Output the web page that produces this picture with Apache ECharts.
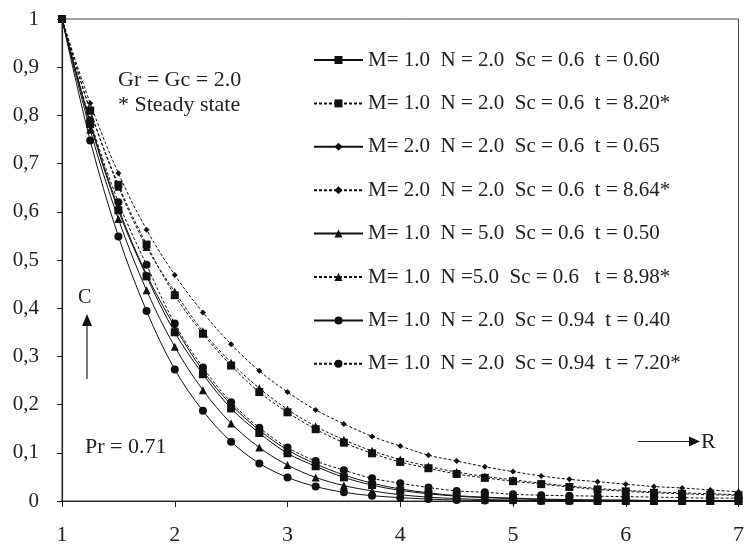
<!DOCTYPE html>
<html>
<head>
<meta charset="utf-8">
<script src="https://cdn.jsdelivr.net/npm/echarts@6/dist/echarts.min.js"></script>
<style>
html,body{margin:0;padding:0;background:#fff;}
#chart{width:747px;height:546px;}
</style>
</head>
<body>
<div id="chart"></div>
<script>
const R = [1,1.25,1.5,1.75,2,2.25,2.5,2.75,3,3.25,3.5,3.75,4,4.25,4.5,4.75,5,5.25,5.5,5.75,6,6.25,6.5,6.75,7];

const names = [
  "M= 1.0  N = 2.0  Sc = 0.6  t = 0.60",
  "M= 1.0  N = 2.0  Sc = 0.6  t = 8.20*",
  "M= 2.0  N = 2.0  Sc = 0.6  t = 0.65",
  "M= 2.0  N = 2.0  Sc = 0.6  t = 8.64*",
  "M= 1.0  N = 5.0  Sc = 0.6  t = 0.50",
  "M= 1.0  N =5.0  Sc = 0.6   t = 8.98*",
  "M= 1.0  N = 2.0  Sc = 0.94  t = 0.40",
  "M= 1.0  N = 2.0  Sc = 0.94  t = 7.20*"
];

const s1 = [1,0.782,0.603,0.466,0.35,0.263,0.192,0.141,0.099,0.072,0.049,0.033,0.022,0.015,0.010,0.007,0.005,0.003,0.002,0.002,0.001,0.001,0.001,0,0];
const s2 = [1,0.81,0.656,0.532,0.427,0.347,0.281,0.226,0.184,0.149,0.121,0.099,0.081,0.068,0.056,0.048,0.041,0.035,0.029,0.024,0.020,0.017,0.015,0.013,0.012];
const s3 = [1,0.786,0.608,0.47,0.362,0.27,0.2,0.147,0.106,0.077,0.054,0.037,0.025,0.017,0.011,0.008,0.006,0.004,0.003,0.002,0.002,0.001,0.001,0.001,0.001];
const s4 = [1,0.825,0.68,0.563,0.469,0.391,0.325,0.27,0.226,0.189,0.16,0.134,0.114,0.095,0.083,0.071,0.061,0.052,0.045,0.040,0.035,0.030,0.027,0.023,0.019];
const s5 = [1,0.77,0.585,0.437,0.32,0.23,0.161,0.111,0.0745,0.049,0.032,0.021,0.013,0.008,0.005,0.003,0.002,0.001,0.001,0,0,0,0,0,0];
const s6 = [1,0.81,0.652,0.527,0.434,0.352,0.287,0.234,0.19,0.155,0.127,0.104,0.086,0.072,0.060,0.051,0.044,0.037,0.031,0.026,0.022,0.019,0.017,0.015,0.013];
const s7 = [1,0.748,0.549,0.394,0.273,0.187,0.123,0.078,0.049,0.030,0.018,0.011,0.007,0.004,0.002,0.001,0.001,0,0,0,0,0,0,0,0];
const s8 = [1,0.79,0.62,0.49,0.368,0.277,0.205,0.152,0.111,0.083,0.064,0.047,0.037,0.028,0.021,0.018,0.014,0.012,0.011,0.010,0.009,0.008,0.007,0.006,0.006];

const yTicks = [0,0.1,0.2,0.3,0.4,0.5,0.6,0.7,0.8,0.9,1];

const seriesData = [s1,s2,s3,s4,s5,s6,s7,s8];
const symbols = ['rect','rect','diamond','diamond','triangle','triangle','circle','circle'];
const symSizes = [8,8,6,6,8,8,8,8];

const FONT = '"Liberation Serif", "DejaVu Serif", serif';

const series = seriesData.map((d,i)=>({
  name: names[i],
  type: 'line',
  data: d.map((v,j)=>[R[j], v]),
  smooth: 0.35,
  symbol: symbols[i],
  symbolSize: symSizes[i],
  showAllSymbol: true,
  lineStyle: {color:'#111', width:1, type: (i%2===1) ? [3,2] : 'solid'},
  itemStyle: {color:'#111'},
  z: 3
}));

const chart = echarts.init(document.getElementById('chart'), null, {renderer:'canvas'});
chart.setOption({
  animation: false,
  backgroundColor: '#fff',
  grid: {left: 62, right: 6, top: 19, bottom: 44, show: true, borderColor: '#444', borderWidth: 1, containLabel: false},
  xAxis: {
    type: 'value', min: 1, max: 7, interval: 1,
    axisLine: {lineStyle: {color: '#222', width: 1.2}},
    axisTick: {show: true, length: 6, lineStyle: {color:'#222'}},
    axisLabel: {color: '#222', fontFamily: FONT, fontSize: 22, margin: 23},
    splitLine: {show: false}
  },
  yAxis: {
    type: 'value', min: 0, max: 1, interval: 0.1,
    axisLine: {show: true, lineStyle: {color: '#222', width: 1.2}},
    axisTick: {show: true, length: 5, lineStyle: {color:'#222'}},
    axisLabel: {color: '#222', fontFamily: FONT, fontSize: 21, margin: 23,
      formatter: v => { const t = yTicks.find(x => Math.abs(x - v) < 1e-9); return String(+((t===undefined?v:t).toFixed(1))).replace('.', ','); }},
    splitLine: {show: false}
  },
  legend: {
    orient: 'vertical', left: 313, top: 49.5, padding: 0,
    itemWidth: 49, itemHeight: 10, itemGap: 22.4,
    textStyle: {color: '#222', fontFamily: FONT, fontSize: 21, lineHeight: 21},
    data: names
  },
  graphic: [
    {type: 'text', left: 118, top: 69, style: {text: 'Gr = Gc = 2.0', fill: '#222', font: '22px ' + FONT}},
    {type: 'text', left: 118, top: 94, style: {text: '* Steady state', fill: '#222', font: '22px ' + FONT}},
    {type: 'text', left: 78, top: 288, style: {text: 'C', fill: '#222', font: '20px ' + FONT}},
    {type: 'line', shape: {x1: 87, y1: 379, x2: 87, y2: 324}, style: {stroke: '#222', lineWidth: 1.2}},
    {type: 'polygon', shape: {points: [[82,326],[92,326],[87,314]]}, style: {fill: '#111'}},
    {type: 'text', left: 85, top: 436, style: {text: 'Pr = 0.71', fill: '#222', font: '22px ' + FONT}},
    {type: 'line', shape: {x1: 638, y1: 441.5, x2: 691, y2: 441.5}, style: {stroke: '#222', lineWidth: 1.2}},
    {type: 'polygon', shape: {points: [[689,436.5],[689,446.5],[700,441.5]]}, style: {fill: '#111'}},
    {type: 'text', left: 701, top: 431, style: {text: 'R', fill: '#222', font: '22px ' + FONT}}
  ],
  series: series
});
</script>
</body>
</html>
